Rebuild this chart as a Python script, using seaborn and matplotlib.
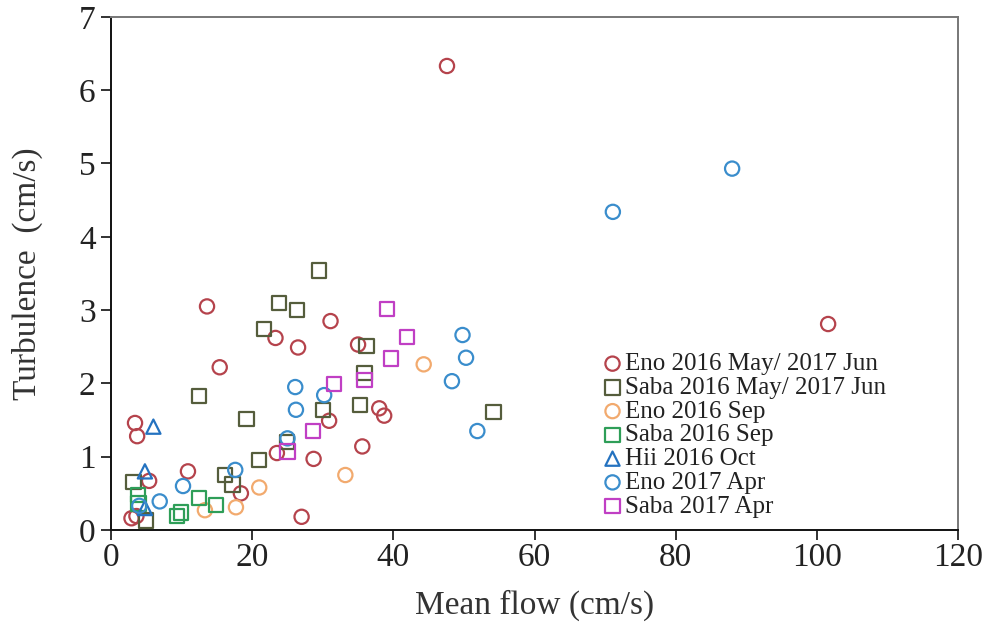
import pandas as pd
import matplotlib
matplotlib.use("Agg")
import matplotlib.pyplot as plt
import seaborn as sns

# values: mean flow (cm/s) and turbulence (cm/s)
eno_mayjun_x = [47.6, 101.6, 13.6, 15.4, 23.3, 26.5, 31.1, 35.0, 30.9, 38.0, 38.7, 35.6,
                23.5, 28.7, 18.4, 27.0, 3.4, 3.7, 5.4, 10.9, 2.9, 3.6]
eno_mayjun_y = [6.33, 2.81, 3.05, 2.22, 2.62, 2.49, 2.85, 2.53, 1.49, 1.66, 1.56, 1.14,
                1.05, 0.97, 0.50, 0.18, 1.46, 1.28, 0.67, 0.80, 0.16, 0.19]
saba_mayjun_x = [29.5, 23.8, 26.3, 21.7, 36.2, 35.9, 12.5, 19.2, 30.0, 35.3, 54.2, 24.9,
                 21.0, 16.1, 17.2, 3.2, 5.0]
saba_mayjun_y = [3.54, 3.10, 3.00, 2.74, 2.51, 2.14, 1.83, 1.51, 1.64, 1.70, 1.61, 1.20,
                 0.95, 0.75, 0.62, 0.66, 0.13]
eno_sep_x = [44.3, 33.2, 21.0, 17.7, 13.3]
eno_sep_y = [2.26, 0.75, 0.58, 0.31, 0.27]
saba_sep_x = [3.8, 3.9, 9.3, 9.9, 12.5, 14.9]
saba_sep_y = [0.48, 0.36, 0.19, 0.24, 0.44, 0.34]
hii_oct_x = [6.0, 4.8, 4.8]
hii_oct_y = [1.41, 0.80, 0.30]
eno_apr_x = [88.0, 71.1, 49.8, 50.3, 48.3, 51.9, 26.1, 26.2, 30.2, 25.0, 17.6, 10.2, 6.9, 4.0]
eno_apr_y = [4.93, 4.34, 2.66, 2.35, 2.03, 1.35, 1.95, 1.64, 1.84, 1.25, 0.82, 0.60, 0.39, 0.33]
saba_apr_x = [39.1, 41.9, 39.7, 35.9, 31.6, 28.6, 25.0]
saba_apr_y = [3.01, 2.63, 2.34, 2.05, 1.99, 1.35, 1.07]

series = [
    ("Eno 2016 May/ 2017 Jun", eno_mayjun_x, eno_mayjun_y, "o", "#b5434c"),
    ("Saba 2016 May/ 2017 Jun", saba_mayjun_x, saba_mayjun_y, "s", "#555d3c"),
    ("Eno 2016 Sep", eno_sep_x, eno_sep_y, "o", "#f2aa6e"),
    ("Saba 2016 Sep", saba_sep_x, saba_sep_y, "s", "#2e9e58"),
    ("Hii 2016 Oct", hii_oct_x, hii_oct_y, "^", "#2472c0"),
    ("Eno 2017 Apr", eno_apr_x, eno_apr_y, "o", "#3a8dcc"),
    ("Saba 2017 Apr", saba_apr_x, saba_apr_y, "s", "#c03fc4"),
]

sns.set_style("white")
plt.rcParams["font.family"] = ["Liberation Serif", "DejaVu Serif"]

fig = plt.figure(figsize=(9.86, 6.25), dpi=100)
ax = fig.add_axes([0.1126, 0.152, 0.859, 0.821])

for name, xs, ys, mk, col in series:
    df = pd.DataFrame({"x": xs, "y": ys})
    sns.scatterplot(data=df, x="x", y="y", ax=ax, marker=mk, s=105,
                    facecolor="none", edgecolor=col, linewidth=1.6,
                    label=name, zorder=3)

ax.set_xlim(0, 120)
ax.set_ylim(0, 7)
ax.set_xticks(range(0, 121, 20))
ax.set_yticks(range(0, 8))
ax.tick_params(bottom=True, left=True, direction="out", length=7, width=1.3,
               labelsize=24, colors="#222222", pad=4)
ax.tick_params(axis="x", pad=2)
ax.set_xlabel("Mean flow (cm/s)", fontsize=24, color="#333333", labelpad=12)
ax.set_ylabel("Turbulence  (cm/s)", fontsize=24, color="#333333", labelpad=26)

for side in ["left", "bottom"]:
    ax.spines[side].set_color("#111111")
    ax.spines[side].set_linewidth(1.4)
for side in ["top", "right"]:
    ax.spines[side].set_color("#777777")
    ax.spines[side].set_linewidth(1.4)

leg = ax.legend(loc="upper left", bbox_to_anchor=(0.567, 0.365), frameon=False,
                fontsize=18, handletextpad=0.05, labelspacing=0.05,
                handlelength=0.9, borderaxespad=0)
for txt in leg.get_texts():
    txt.set_color("#222222")

fig.savefig("out.png", dpi=100)
